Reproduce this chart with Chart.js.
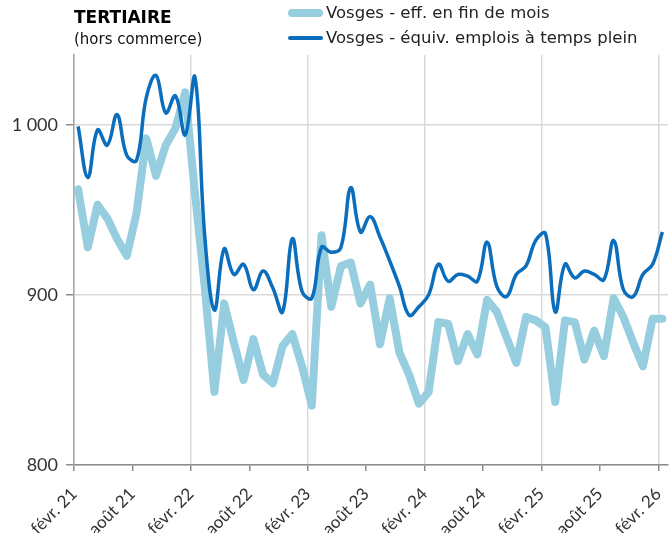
<!DOCTYPE html>
<html>
<head>
<meta charset="utf-8">
<script src="https://cdn.jsdelivr.net/npm/chart.js@4.4.1/dist/chart.umd.min.js"></script>
<style>
  body { margin: 0; background: #fff; font-family: Lato, sans-serif; }
  #wrap { position: relative; width: 670px; height: 533px; }
  canvas { position: absolute; left: 0; top: 0; }
  .title { position: absolute; left: 74px; top: 7px; font-family: "DejaVu Sans"; font-weight: 700; font-size: 17px; color: #000; }
  .sub { position: absolute; left: 74px; top: 30px; font-family: "DejaVu Sans"; font-size: 15px; color: #111; }
  .leg { position: absolute; left: 288px; font-family: "DejaVu Sans"; font-size: 16.5px; color: #222; display: flex; align-items: center; white-space: nowrap; }
  .leg i { display: inline-block; width: 35px; margin-right: 3px; border-radius: 4px; }
</style>
</head>
<body>
<div id="wrap">
  <canvas id="chart" width="670" height="533"></canvas>
  <div class="title">TERTIAIRE</div>
  <div class="sub">(hors commerce)</div>
  <div class="leg" style="top:3px"><i style="height:8px;background:#96cddf"></i>Vosges - eff. en fin de mois</div>
  <div class="leg" style="top:28px"><i style="height:4px;background:#0a6ebd"></i>Vosges - équiv. emplois à temps plein</div>
</div>
<script>
// monthly, févr. 21 -> févr. 26
const tickLabels = ["févr. 21", "août 21", "févr. 22", "août 22", "févr. 23", "août 23",
  "févr. 24", "août 24", "févr. 25", "août 25", "févr. 26"];

const effFinMois = [962, 928, 953, 945, 933, 923, 948, 992, 970, 988, 998, 1019,
  960, 905, 843, 895, 872, 850, 874, 853, 848, 870, 877, 858,
  835, 935, 893, 917, 919, 895, 906, 871, 898, 866, 853, 836,
  843, 884, 883, 861, 877, 865, 897, 890, 875, 860, 887, 885,
  881, 837, 885, 884, 862, 879, 864, 898, 887, 872, 858, 886, 886];

const equivTempsPlein = [999, 969, 997, 988, 1006, 982, 979, 1016, 1029, 1007, 1017, 994,
  1028, 935, 891, 927, 912, 918, 903, 914, 904, 890, 933, 902,
  898, 928, 925, 928, 963, 937, 946, 934, 920, 905, 888, 893,
  900, 918, 908, 912, 911, 908, 931, 905, 899, 912, 917, 932,
  936, 890, 918, 910, 914, 912, 909, 932, 903, 899, 912, 918, 937];

const yTicks = [800, 900, 1000];

const toPoints = arr => arr.map((v, i) => ({ x: i + 0.42, y: v }));

new Chart(document.getElementById("chart"), {
  type: "line",
  data: {
    datasets: [
      {
        label: "Vosges - eff. en fin de mois",
        data: toPoints(effFinMois),
        borderColor: "#96cddf",
        borderWidth: 8,
        borderCapStyle: "round",
        borderJoinStyle: "round",
        tension: 0,
        pointRadius: 0,
        order: 2,
      },
      {
        label: "Vosges - équiv. emplois à temps plein",
        data: toPoints(equivTempsPlein),
        borderColor: "#0a6ebd",
        borderWidth: 3.5,
        tension: 0.4,
        pointRadius: 0,
        order: 1,
      },
    ],
  },
  options: {
    responsive: false,
    animation: false,
    layout: { padding: { top: 55, right: 2, left: 0, bottom: 0 } },
    plugins: { legend: { display: false }, tooltip: { enabled: false } },
    scales: {
      x: {
        type: "linear",
        min: 0,
        max: 61,
        afterBuildTicks: s => { s.ticks = tickLabels.map((_, i) => ({ value: i * 6 })); },
        afterFit: s => { s.height = 68; s.paddingLeft = 0; s.paddingRight = 0; },
        grid: {
          color: c => (c.index % 2 === 0 ? "#d9d9d9" : "rgba(0,0,0,0)"),
          tickColor: "#8c8c8c",
          tickLength: 6,
          lineWidth: 1.5,
        },
        border: { color: "#8c8c8c", width: 1.5 },
        ticks: {
          minRotation: 45,
          maxRotation: 45,
          autoSkip: false,
          padding: 13,
          color: "#333",
          font: { family: "Lato", size: 17 },
          callback: (v, i) => tickLabels[i],
        },
      },
      y: {
        min: 800,
        max: 1041,
        afterBuildTicks: s => { s.ticks = yTicks.map(v => ({ value: v })); },
        afterFit: s => { s.width = 74; },
        grid: { color: "#d9d9d9", tickColor: "#8c8c8c", tickLength: 8, lineWidth: 1.5 },
        border: { color: "#a6a6a6", width: 1.5 },
        ticks: {
          color: "#333",
          padding: 8,
          font: { family: "Lato", size: 18 },
          callback: v => (v >= 1000 ? "1 000" : String(v)),
        },
      },
    },
  },
});
</script>
</body>
</html>
